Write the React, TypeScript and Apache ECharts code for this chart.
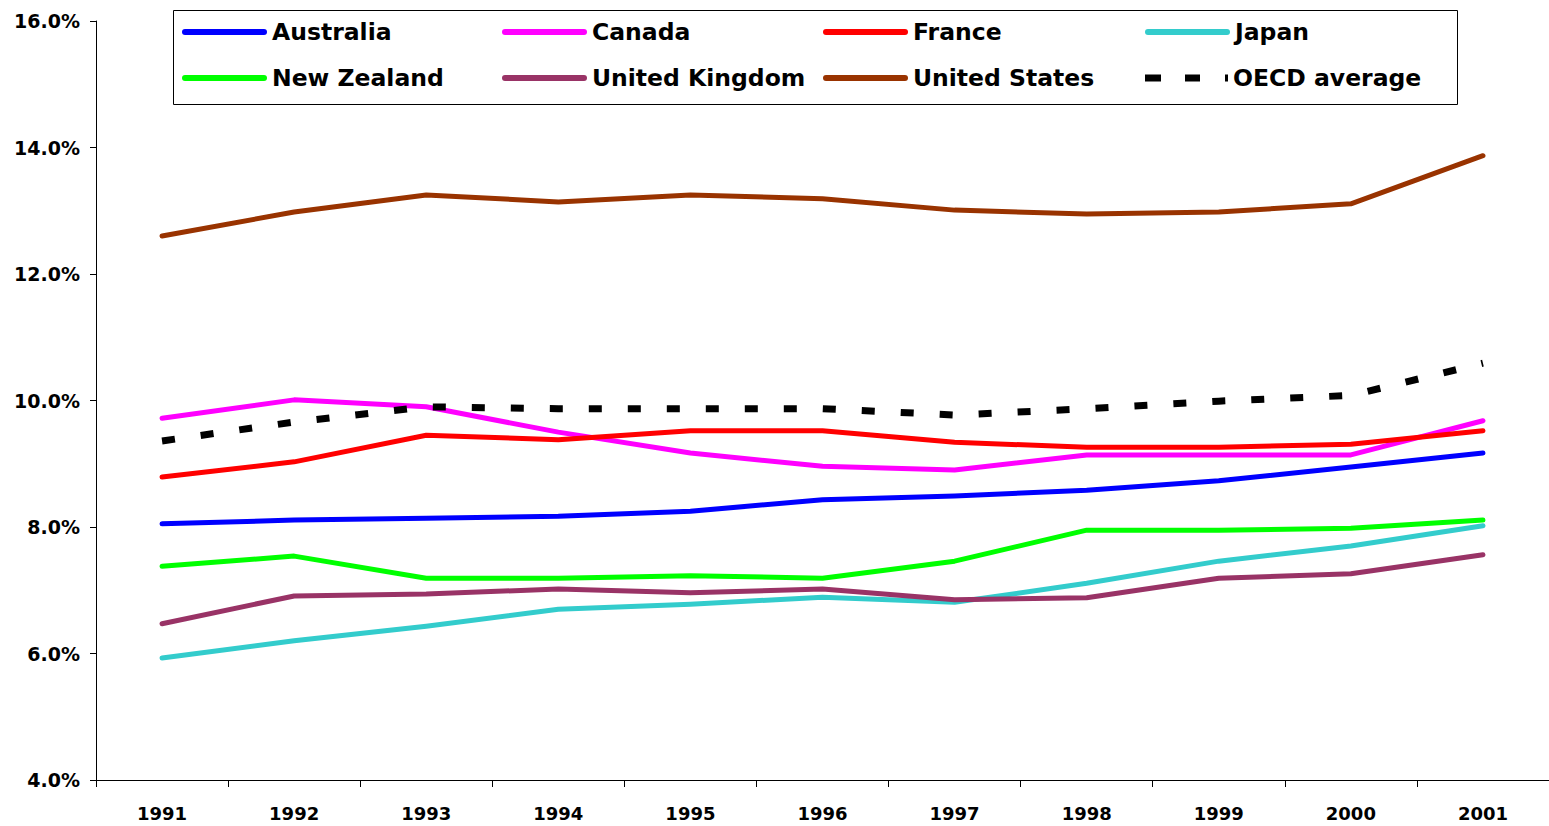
import React, { useEffect, useRef } from "react";
import * as echarts from "echarts";

const years = ["1991", "1992", "1993", "1994", "1995", "1996", "1997", "1998", "1999", "2000", "2001"];

const australia = [8.05, 8.11, 8.14, 8.17, 8.25, 8.43, 8.49, 8.58, 8.73, 8.95, 9.17];
const canada = [9.72, 10.01, 9.9, 9.5, 9.17, 8.96, 8.9, 9.14, 9.14, 9.14, 9.68];
const france = [8.79, 9.03, 9.45, 9.38, 9.52, 9.52, 9.34, 9.26, 9.26, 9.31, 9.52];
const japan = [5.93, 6.2, 6.43, 6.7, 6.78, 6.89, 6.81, 7.11, 7.46, 7.7, 8.02];
const newZealand = [7.38, 7.54, 7.19, 7.19, 7.23, 7.19, 7.46, 7.95, 7.95, 7.98, 8.11];
const unitedKingdom = [6.47, 6.91, 6.94, 7.02, 6.96, 7.02, 6.85, 6.88, 7.19, 7.26, 7.56];
const unitedStates = [12.6, 12.98, 13.25, 13.14, 13.25, 13.19, 13.01, 12.95, 12.98, 13.11, 13.87];
const oecdAverage = [9.36, 9.66, 9.9, 9.87, 9.87, 9.87, 9.77, 9.87, 9.99, 10.08, 10.59];

const seriesDefs = [
  { name: "Australia", data: australia, color: "#0000FF" },
  { name: "Canada", data: canada, color: "#FF00FF" },
  { name: "France", data: france, color: "#FF0000" },
  { name: "Japan", data: japan, color: "#33CCCC" },
  { name: "New Zealand", data: newZealand, color: "#00FF00" },
  { name: "United Kingdom", data: unitedKingdom, color: "#993366" },
  { name: "United States", data: unitedStates, color: "#993300" },
  { name: "OECD average", data: oecdAverage, color: "#000000", dashed: true },
];

const legendCols = [182, 502, 823, 1145];
const legendRows = [32, 78];
const FONT = "'DejaVu Sans', Verdana, sans-serif";

const SOLID_ICON = "path://M3,0H82A3,3,0,0,1,82,6H3A3,3,0,0,1,3,0Z";
const DASH_ICON = "path://M0,0H16V7H0Z M40,0H55V7H40Z M80,0H83V7H80Z";

export default function App() {
  const ref = useRef<HTMLDivElement>(null);
  useEffect(() => {
    if (!ref.current) return;
    const chart = echarts.init(ref.current, null, { renderer: "svg" });
    const legends = seriesDefs.map((s, i) => ({
      data: [{ name: s.name, icon: s.dashed ? DASH_ICON : SOLID_ICON }],
      left: legendCols[i % 4],
      top: legendRows[Math.floor(i / 4)] - 12,
      padding: 0,
      itemWidth: s.dashed ? 83 : 85,
      itemHeight: s.dashed ? 7 : 6,
      itemGap: 0,
      selectedMode: false,
      itemStyle: { borderWidth: 0 },
      textStyle: { fontFamily: FONT, fontWeight: "bold", fontSize: 23.5, color: "#000" },
    }));
    chart.setOption({
      animation: false,
      backgroundColor: "#fff",
      grid: { left: 96, top: 21, width: 1461, height: 759, containLabel: false },
      legend: legends,
      graphic: [
        {
          type: "rect",
          shape: { x: 173.5, y: 10.5, width: 1284, height: 94 },
          style: { fill: "transparent", stroke: "#000", lineWidth: 1 },
          z: 0,
        },
      ],
      xAxis: {
        type: "category",
        data: years,
        boundaryGap: true,
        axisLine: { lineStyle: { color: "#000", width: 1 } },
        axisTick: { show: true, length: 7, lineStyle: { color: "#000" } },
        axisLabel: { fontFamily: FONT, fontWeight: "bold", fontSize: 18, color: "#000", margin: 24 },
        splitLine: { show: false },
      },
      yAxis: {
        type: "value",
        min: 4,
        max: 16,
        interval: 2,
        axisLine: { show: true, lineStyle: { color: "#000", width: 1 } },
        axisTick: { show: true, length: 6, lineStyle: { color: "#000" } },
        axisLabel: {
          fontFamily: FONT,
          fontWeight: "bold",
          fontSize: 19,
          color: "#000",
          margin: 16,
          formatter: (v: number) => v.toFixed(1) + "%",
        },
        splitLine: { show: false },
      },
      series: seriesDefs.map((s) => ({
        name: s.name,
        type: "line",
        data: s.data,
        showSymbol: false,
        symbol: "none",
        color: s.color,
        lineStyle: s.dashed
          ? { color: s.color, width: 7, type: [13, 26], cap: "butt" }
          : { color: s.color, width: 5, cap: "round", join: "round" },
      })),
    });
    return () => chart.dispose();
  }, []);
  return (
    <div
      ref={ref}
      style={{ position: "absolute", left: 0, top: 0, width: 1549, height: 826, background: "#fff" }}
    />
  );
}
